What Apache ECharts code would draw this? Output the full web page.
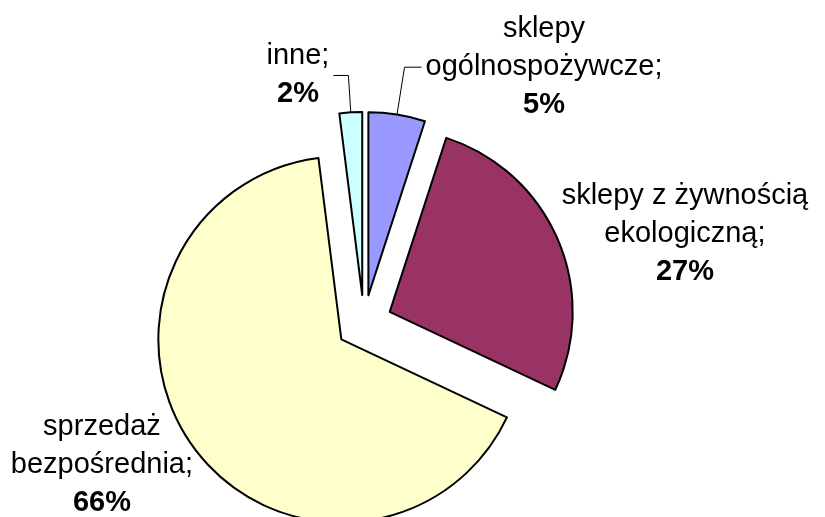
<!DOCTYPE html>
<html>
<head>
<meta charset="utf-8">
<script src="https://cdn.jsdelivr.net/npm/echarts@6/dist/echarts.min.js"></script>
<style>
html, body { margin: 0; padding: 0; background: #fff; }
#chart { width: 825px; height: 517px; }
</style>
</head>
<body>
<div id="chart"></div>
<script>
// 数据
const categories = ['sklepy\nogólnospożywcze', 'sklepy z żywnością\nekologiczną', 'sprzedaż\nbezpośrednia', 'inne']
const shares = [5, 27, 66, 2]
const colors = ['#9999ff', '#993366', '#ffffcc', '#ccffff']

// 引线设置 (只有两个小块显示引线)
const lineSetting = [
  { show: true, length: 48, length2: 17 },
  { show: false, length: 0, length2: 0 },
  { show: false, length: 30, length2: 0 },
  { show: true, length: 37, length2: 15 }
]
// 没有引线的标签再微调一下位置
const labelShift = [null, { dx: 0, dy: -5 }, { dx: 28, dy: 0 }, null]

const chart = echarts.init(document.getElementById('chart'))

const option = {
  animation: false,
  series: [
    {
      type: 'pie',
      center: [364, 323],
      radius: 183,
      startAngle: 90,
      clockwise: true,
      selectedMode: 'multiple',
      selectedOffset: 28, // 分离出去的距离
      avoidLabelOverlap: false,
      itemStyle: {
        borderColor: '#000',
        borderWidth: 2
      },
      emphasis: { disabled: true },
      label: {
        position: 'outside',
        distanceToLabelLine: 4,
        formatter: function(p) {
          const parts = p.name.split('\n')
          const last = parts.length - 1
          const txt = parts.map((s, i) => '{n|' + s + (i === last ? ';' : '') + '}').join('\n')
          return txt + '\n{b|' + p.value + '%}'
        },
        rich: {
          n: {
            fontFamily: 'Liberation Sans',
            fontSize: 29,
            color: '#000',
            align: 'center',
            lineHeight: 38
          },
          b: {
            fontFamily: 'Liberation Sans',
            fontSize: 29,
            fontWeight: 'bold',
            color: '#000',
            align: 'center',
            lineHeight: 38
          }
        }
      },
      labelLine: {
        lineStyle: { color: '#000', width: 1 }
      },
      labelLayout: function(params) {
        return labelShift[params.dataIndex] || {}
      },
      data: categories.map((name, i) => ({
        name: name,
        value: shares[i],
        selected: true,
        itemStyle: { color: colors[i] },
        labelLine: lineSetting[i]
      }))
    }
  ]
}

chart.setOption(option)
</script>
</body>
</html>
